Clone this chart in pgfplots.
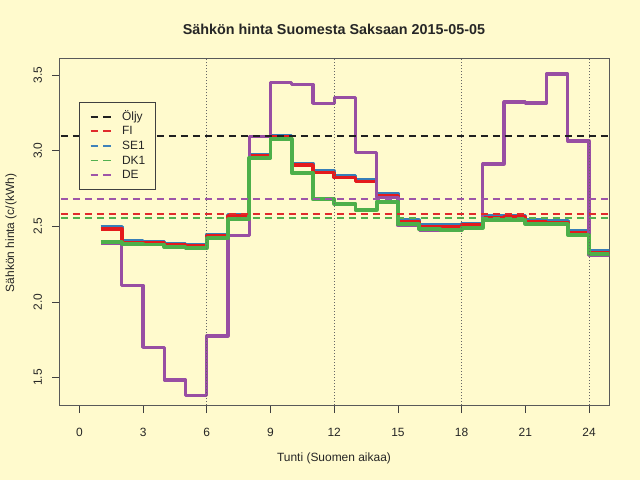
\documentclass[border=0pt]{standalone}
\usepackage{pgfplots}
\pgfplotsset{compat=1.18}
\usepackage{fontspec}
\setmainfont{Liberation Sans}
\definecolor{bgc}{HTML}{FFFACD}
\definecolor{cfi}{HTML}{E41A1C}
\definecolor{cse}{HTML}{377EB8}
\definecolor{cdk}{HTML}{4DAF4A}
\definecolor{cde}{HTML}{984EA3}
\definecolor{dfi}{HTML}{E02A2C}
\definecolor{dse}{HTML}{3F82BA}
\definecolor{ddk}{HTML}{52B04F}
\definecolor{dde}{HTML}{9E55A8}
\definecolor{dblk}{HTML}{202020}
\definecolor{axc}{HTML}{595959}
\definecolor{tkc}{HTML}{404040}
\definecolor{txc}{HTML}{262626}
\definecolor{dotc}{HTML}{666666}
\begin{document}
\begin{tikzpicture}
\fill[bgc] (0,0) rectangle (640bp,480bp);
\begin{axis}[
  at={(59bp,74bp)}, anchor=south west,
  width=550.4bp, height=347bp, scale only axis,
  xmin=-0.96, xmax=24.96, ymin=1.312, ymax=3.606,
  xtick={0,3,...,24}, ytick={1.5,2.0,2.5,3.0,3.5},
  xtick pos=bottom, ytick pos=left,
  tick align=outside, major tick length=7bp,
  tick style={tkc, line width=0.8bp},
  axis line style={axc, line width=1bp},
  /pgf/number format/assume math mode=true,
  ticklabel style={font=\fontsize{12}{14}\selectfont, text=txc},
  xticklabel style={anchor=base, yshift=-23bp},
  yticklabel style={/pgf/number format/fixed, /pgf/number format/fixed zerofill, /pgf/number format/precision=1, xshift=-10.2bp, rotate=90, anchor=base},
  legend image code/.code={\draw[#1,solid] (0bp,0bp)--(7.5bp,0bp); \draw[#1,solid] (12.5bp,0bp)--(20bp,0bp);},
  legend cell align=left,
  legend style={at={(0.0369,0.8752)}, anchor=north west, draw=tkc, line width=0.8bp, fill=bgc,
    inner xsep=10bp, inner ysep=10.4bp, row sep=7.4bp, column sep=10.6bp,
    font=\fontsize{12}{14}\selectfont, text=txc,
    nodes={inner sep=0pt, text height=7.2bp, text depth=0pt}},
]
% step series
\addplot[forget plot, const plot, color=cse, line width=3.5bp, line join=round] coordinates {
(1,2.497) (2,2.403) (3,2.398) (4,2.385) (5,2.376) (6,2.447) (7,2.575) (8,2.975)
(9,3.100) (10,2.916) (11,2.866) (12,2.835) (13,2.810) (14,2.718) (15,2.540) (16,2.507)
(17,2.507) (18,2.520) (19,2.568) (20,2.570) (21,2.542) (22,2.537) (23,2.469) (24,2.339) (25,2.339)};
\addplot[forget plot, const plot, color=cfi, line width=3.5bp, line join=round] coordinates {
(1,2.482) (2,2.394) (3,2.390) (4,2.376) (5,2.370) (6,2.438) (7,2.568) (8,2.968)
(9,3.093) (10,2.905) (11,2.854) (12,2.822) (13,2.797) (14,2.702) (15,2.529) (16,2.498)
(17,2.497) (18,2.511) (19,2.559) (20,2.560) (21,2.531) (22,2.526) (23,2.460) (24,2.328) (25,2.328)};
\addplot[forget plot, const plot, color=cde, line width=3.2bp, line join=round] coordinates {
(1,2.390) (2,2.110) (3,1.700) (4,1.484) (5,1.380) (6,1.775) (7,2.438) (8,3.092)
(9,3.449) (10,3.438) (11,3.313) (12,3.350) (13,2.989) (14,2.690) (15,2.507) (16,2.471)
(17,2.470) (18,2.486) (19,2.912) (20,3.322) (21,3.315) (22,3.507) (23,3.064) (24,2.308) (25,2.308)};
\addplot[forget plot, const plot, color=cdk, line width=3.8bp, line join=round] coordinates {
(1,2.394) (2,2.384) (3,2.379) (4,2.362) (5,2.356) (6,2.420) (7,2.548) (8,2.953)
(9,3.077) (10,2.854) (11,2.678) (12,2.650) (13,2.608) (14,2.663) (15,2.513) (16,2.480)
(17,2.478) (18,2.491) (19,2.544) (20,2.544) (21,2.517) (22,2.513) (23,2.444) (24,2.317) (25,2.317)};
% horizontal reference lines
\addplot[forget plot, color=dblk, line width=1.8bp, dash pattern=on 7bp off 5bp] coordinates {(-2,3.099) (26,3.099)};
\addplot[forget plot, color=dse, line width=1.8bp, dash pattern=on 7bp off 5bp] coordinates {(-2,2.584) (26,2.584)};
\addplot[forget plot, color=dfi, line width=1.8bp, dash pattern=on 7bp off 5bp] coordinates {(-2,2.583) (26,2.583)};
\addplot[forget plot, color=ddk, line width=1.8bp, dash pattern=on 7bp off 5bp] coordinates {(-2,2.557) (26,2.557)};
\addplot[forget plot, color=dde, line width=1.8bp, dash pattern=on 7bp off 5bp] coordinates {(-2,2.678) (26,2.678)};
% vertical dotted lines
\addplot[forget plot, color=dotc, line width=0.9bp, dash pattern=on 1bp off 2bp] coordinates {(6,1) (6,4)};
\addplot[forget plot, color=dotc, line width=0.9bp, dash pattern=on 1bp off 2bp] coordinates {(12,1) (12,4)};
\addplot[forget plot, color=dotc, line width=0.9bp, dash pattern=on 1bp off 2bp] coordinates {(18,1) (18,4)};
\addplot[forget plot, color=dotc, line width=0.9bp, dash pattern=on 1bp off 2bp] coordinates {(24,1) (24,4)};
% legend
\addlegendimage{color=dblk, line width=1.8bp}\addlegendentry{Öljy}
\addlegendimage{color=dfi, line width=1.8bp}\addlegendentry{FI}
\addlegendimage{color=dse, line width=1.8bp}\addlegendentry{SE1}
\addlegendimage{color=ddk, line width=1.8bp}\addlegendentry{DK1}
\addlegendimage{color=dde, line width=1.8bp}\addlegendentry{DE}
\end{axis}
\node[anchor=base, font=\fontsize{14.4}{17}\selectfont\bfseries, text=txc] at (334bp,445bp) {Sähkön hinta Suomesta Saksaan 2015-05-05};
\node[anchor=base, font=\fontsize{12}{14}\selectfont, text=txc] at (334bp,19bp) {Tunti (Suomen aikaa)};
\node[anchor=base, rotate=90, font=\fontsize{12}{14}\selectfont, text=txc] at (14bp,247bp) {Sähkön hinta (c/(kWh)};
\pgfresetboundingbox
\path[use as bounding box] (0,0) rectangle (640bp,480bp);
\end{tikzpicture}
\end{document}
